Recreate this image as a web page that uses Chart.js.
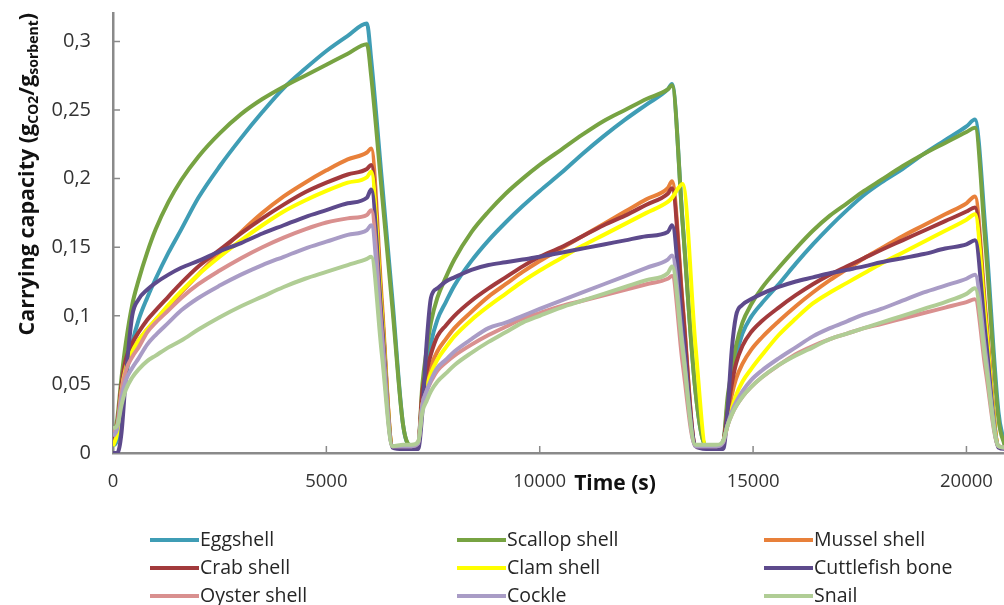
<!DOCTYPE html>
<html><head><meta charset="utf-8">
<script src="https://cdn.jsdelivr.net/npm/chart.js@4.4.1/dist/chart.umd.min.js"></script>
<style>html,body{margin:0;padding:0;background:#fff;}#wrap{width:1004px;height:605px;}</style>
</head><body><div id="wrap"><canvas id="c" width="1004" height="605"></canvas></div>
<script>
const FONT = "'Open Sans', Lato, sans-serif";

const seriesNames = ['Eggshell','Scallop shell','Mussel shell','Crab shell','Clam shell','Cuttlefish bone','Oyster shell','Cockle','Snail'];
const seriesColors = ['#3f9db5','#77a342','#e8803a','#a23a3c','#ffff00','#5d4a8c','#d9908f','#a99cc6','#b0cd95'];

const xTicks = [0,5000,10000,15000,20000];
const yTicks = [0,0.05,0.1,0.15,0.2,0.25,0.3];

const times = [
0,100,200,300,450,600,800,1000,1300,1600,2000,2500,3000,3500,4000,4500,5000,5500,5950,6050,6300,6550,6800,7000,7150,
7250,7350,7450,7600,7800,8000,8400,8800,9200,9600,10000,10500,11000,11500,12000,12500,13000,13100,13350,13650,13900,14150,14300,
14400,14500,14600,14750,14950,15200,15600,16000,16400,16800,17200,17600,18000,18500,19000,19500,20000,20200,20450,20750,20900];

const eggshell = [
0.005,0.01,0.035,0.055,0.08,0.097,0.113,0.127,0.146,0.163,0.186,0.209,0.2295,0.2485,0.266,0.280,0.293,0.304,0.313,0.287,0.199,0.111,0.02,0.005,0.006,
0.04,0.06,0.08,0.097,0.110,0.122,0.140,0.155,0.168,0.180,0.191,0.204,0.218,0.231,0.243,0.254,0.265,0.269,0.168,0.045,0.005,0.005,0.008,
0.035,0.055,0.07,0.087,0.099,0.109,0.123,0.138,0.152,0.165,0.177,0.188,0.197,0.207,0.218,0.228,0.238,0.243,0.16,0.03,0.006];
const scallop = [
0.01,0.025,0.055,0.08,0.108,0.126,0.146,0.163,0.183,0.199,0.216,0.233,0.247,0.258,0.267,0.275,0.283,0.291,0.298,0.275,0.19,0.105,0.02,0.005,0.006,
0.05,0.075,0.095,0.113,0.128,0.141,0.161,0.176,0.189,0.200,0.210,0.221,0.232,0.242,0.250,0.258,0.265,0.268,0.167,0.045,0.005,0.005,0.008,
0.04,0.06,0.078,0.095,0.108,0.12,0.135,0.149,0.162,0.173,0.182,0.191,0.199,0.209,0.218,0.226,0.234,0.237,0.15,0.025,0.005];
const mussel = [
0.008,0.02,0.048,0.064,0.075,0.082,0.09,0.097,0.107,0.117,0.130,0.146,0.161,0.175,0.187,0.197,0.206,0.214,0.219,0.222,0.111,0.005,0.004,0.005,0.006,
0.04,0.052,0.063,0.074,0.083,0.091,0.103,0.114,0.123,0.132,0.140,0.149,0.158,0.167,0.176,0.185,0.193,0.198,0.109,0.006,0.005,0.005,0.008,
0.025,0.042,0.054,0.065,0.075,0.084,0.096,0.107,0.117,0.126,0.134,0.142,0.149,0.158,0.166,0.174,0.182,0.187,0.103,0.005,0.004];
const crab = [
0.008,0.02,0.05,0.068,0.08,0.088,0.097,0.104,0.114,0.124,0.136,0.148,0.160,0.171,0.181,0.190,0.197,0.203,0.207,0.21,0.105,0.005,0.004,0.005,0.006,
0.045,0.06,0.072,0.085,0.093,0.1,0.111,0.12,0.128,0.136,0.143,0.150,0.158,0.166,0.173,0.181,0.189,0.193,0.106,0.006,0.005,0.005,0.008,
0.03,0.05,0.065,0.078,0.088,0.096,0.106,0.115,0.123,0.130,0.136,0.142,0.148,0.155,0.162,0.169,0.176,0.179,0.098,0.005,0.004];
const clam = [
0.005,0.015,0.045,0.062,0.074,0.082,0.09,0.097,0.108,0.118,0.130,0.143,0.155,0.166,0.176,0.184,0.191,0.197,0.201,0.205,0.103,0.005,0.004,0.005,0.006,
0.035,0.048,0.058,0.068,0.077,0.085,0.097,0.107,0.116,0.125,0.133,0.142,0.151,0.159,0.167,0.175,0.183,0.186,0.196,0.078,0.005,0.005,0.008,
0.02,0.032,0.042,0.052,0.061,0.071,0.086,0.098,0.109,0.117,0.124,0.131,0.138,0.146,0.154,0.162,0.170,0.174,0.096,0.005,0.004];
const cuttlefish = [
0.0,0.0,0.015,0.055,0.1,0.112,0.119,0.124,0.13,0.135,0.14,0.147,0.153,0.16,0.166,0.172,0.177,0.182,0.186,0.192,0.096,0.004,0.003,0.003,0.003,
0.03,0.08,0.113,0.12,0.125,0.128,0.1335,0.137,0.139,0.141,0.143,0.146,0.149,0.152,0.155,0.158,0.161,0.166,0.091,0.005,0.003,0.003,0.003,
0.03,0.075,0.1,0.108,0.112,0.116,0.121,0.125,0.128,0.131,0.1335,0.136,0.139,0.142,0.145,0.149,0.152,0.155,0.085,0.004,0.003];
const oyster = [
0.015,0.02,0.045,0.06,0.07,0.077,0.088,0.095,0.104,0.113,0.123,0.133,0.142,0.150,0.157,0.163,0.168,0.171,0.1735,0.177,0.088,0.005,0.005,0.005,0.007,
0.035,0.045,0.052,0.06,0.066,0.071,0.079,0.086,0.092,0.098,0.102,0.107,0.111,0.115,0.119,0.123,0.127,0.129,0.065,0.005,0.005,0.005,0.008,
0.02,0.028,0.034,0.041,0.048,0.055,0.064,0.072,0.078,0.083,0.087,0.091,0.094,0.098,0.102,0.106,0.110,0.112,0.06,0.005,0.004];
const cockle = [
0.012,0.018,0.04,0.053,0.062,0.069,0.079,0.086,0.095,0.104,0.113,0.122,0.130,0.137,0.143,0.149,0.154,0.159,0.1625,0.166,0.083,0.005,0.005,0.005,0.007,
0.035,0.045,0.053,0.062,0.068,0.074,0.083,0.091,0.095,0.100,0.105,0.111,0.117,0.123,0.129,0.135,0.141,0.144,0.079,0.005,0.005,0.005,0.008,
0.02,0.03,0.037,0.045,0.053,0.06,0.069,0.077,0.085,0.091,0.096,0.101,0.105,0.111,0.117,0.122,0.127,0.130,0.072,0.005,0.004];
const snail = [
0.018,0.02,0.035,0.046,0.055,0.061,0.067,0.071,0.077,0.082,0.090,0.099,0.107,0.114,0.121,0.127,0.132,0.137,0.1415,0.143,0.072,0.005,0.006,0.006,0.008,
0.03,0.038,0.045,0.052,0.058,0.064,0.073,0.081,0.088,0.095,0.100,0.106,0.111,0.116,0.121,0.126,0.131,0.136,0.075,0.006,0.006,0.006,0.009,
0.02,0.028,0.034,0.041,0.048,0.055,0.064,0.071,0.077,0.083,0.087,0.091,0.095,0.1,0.105,0.110,0.116,0.120,0.066,0.005,0.004];

const seriesValues = [eggshell, scallop, mussel, crab, clam, cuttlefish, oyster, cockle, snail];

const datasets = seriesNames.map((name, i) => ({
  label: name,
  data: times.map((t, k) => ({x: t, y: seriesValues[i][k]})),
  borderColor: seriesColors[i],
  backgroundColor: seriesColors[i],
  borderWidth: 4,
  pointRadius: 0,
  pointHoverRadius: 0,
  fill: false,
  cubicInterpolationMode: 'monotone',
  borderJoinStyle: 'round',
  order: seriesNames.length - 1 - i
}));

const AXIS = '#8a8a8a';

const innerTicks = {
  id: 'innerTicks',
  beforeDatasetsDraw(chart) {
    const ctx = chart.ctx, xs = chart.scales.x, ys = chart.scales.y, a = chart.chartArea;
    ctx.save();
    ctx.strokeStyle = AXIS; ctx.lineWidth = 1.5;
    ctx.beginPath();
    xTicks.forEach(v => { if (v === 0) return; const p = xs.getPixelForValue(v); ctx.moveTo(p, a.bottom); ctx.lineTo(p, a.bottom - 7); });
    yTicks.forEach(v => { if (v === 0) return; const p = ys.getPixelForValue(v); ctx.moveTo(a.left, p); ctx.lineTo(a.left + 7, p); });
    ctx.stroke();
    ctx.restore();
  }
};

const extraText = {
  id: 'extraText',
  afterDraw(chart) {
    const ctx = chart.ctx;
    ctx.save();
    // legend in 3 columns
    const colX = [150, 457, 764], rowY = [540, 568, 596];
    ctx.font = '19.5px ' + FONT;
    ctx.textBaseline = 'middle';
    ctx.textAlign = 'left';
    chart.data.datasets.forEach((ds, i) => {
      const x = colX[i % 3], y = rowY[Math.floor(i / 3)];
      ctx.strokeStyle = ds.borderColor;
      ctx.lineWidth = 4;
      ctx.beginPath(); ctx.moveTo(x, y); ctx.lineTo(x + 49, y); ctx.stroke();
      ctx.fillStyle = '#262626';
      ctx.fillText(ds.label, x + 50, y);
    });
    // x title
    ctx.font = 'bold 21px ' + FONT;
    ctx.textAlign = 'center';
    ctx.fillStyle = '#111';
    ctx.fillText('Time (s)', 615, 484);
    // y title with subscripts
    const main = 'bold 21.5px ' + FONT, sub = 'bold 14px ' + FONT;
    const parts = [['Carrying capacity (g', main, 0], ['CO2', sub, 4], ['/g', main, 0], ['sorbent', sub, 4], [')', main, 0]];
    let total = 0;
    parts.forEach(p => { ctx.font = p[1]; p.w = ctx.measureText(p[0]).width; total += p.w; });
    ctx.translate(33.5, 13 + total);
    ctx.rotate(-Math.PI / 2);
    ctx.textAlign = 'left';
    ctx.textBaseline = 'alphabetic';
    let x = 0;
    parts.forEach(p => { ctx.font = p[1]; ctx.fillText(p[0], x, p[2]); x += p.w; });
    ctx.restore();
  }
};

new Chart(document.getElementById('c'), {
  type: 'line',
  data: { datasets },
  options: {
    responsive: false,
    animation: false,
    devicePixelRatio: 1,
    layout: { padding: { top: 13, right: 0, bottom: 112, left: 0 } },
    plugins: { legend: { display: false }, tooltip: { enabled: false } },
    scales: {
      x: {
        type: 'linear', min: 0, max: 20880,
        afterFit: s => { s.height = 40; s.paddingLeft = 0; s.paddingRight = 0; },
        afterBuildTicks: s => { s.ticks = xTicks.map(v => ({value: v})); },
        border: { color: AXIS, width: 2.5 },
        grid: { drawOnChartArea: false, drawTicks: false },
        ticks: { padding: 18, color: '#333', font: { family: FONT, size: 18.5 }, maxRotation: 0, autoSkip: false,
                 callback: v => String(v) }
      },
      y: {
        min: 0, max: 0.3207,
        afterFit: s => { s.width = 113; s.paddingTop = 0; s.paddingBottom = 0; },
        afterBuildTicks: s => { s.ticks = yTicks.map(v => ({value: v})); },
        border: { color: AXIS, width: 2.5 },
        grid: { drawOnChartArea: false, drawTicks: false },
        ticks: { padding: 22, color: '#333', font: { family: FONT, size: 20 },
                 callback: v => String(Number(v.toFixed(2))).replace('.', ',') }
      }
    }
  },
  plugins: [innerTicks, extraText]
});
</script>
</body></html>
